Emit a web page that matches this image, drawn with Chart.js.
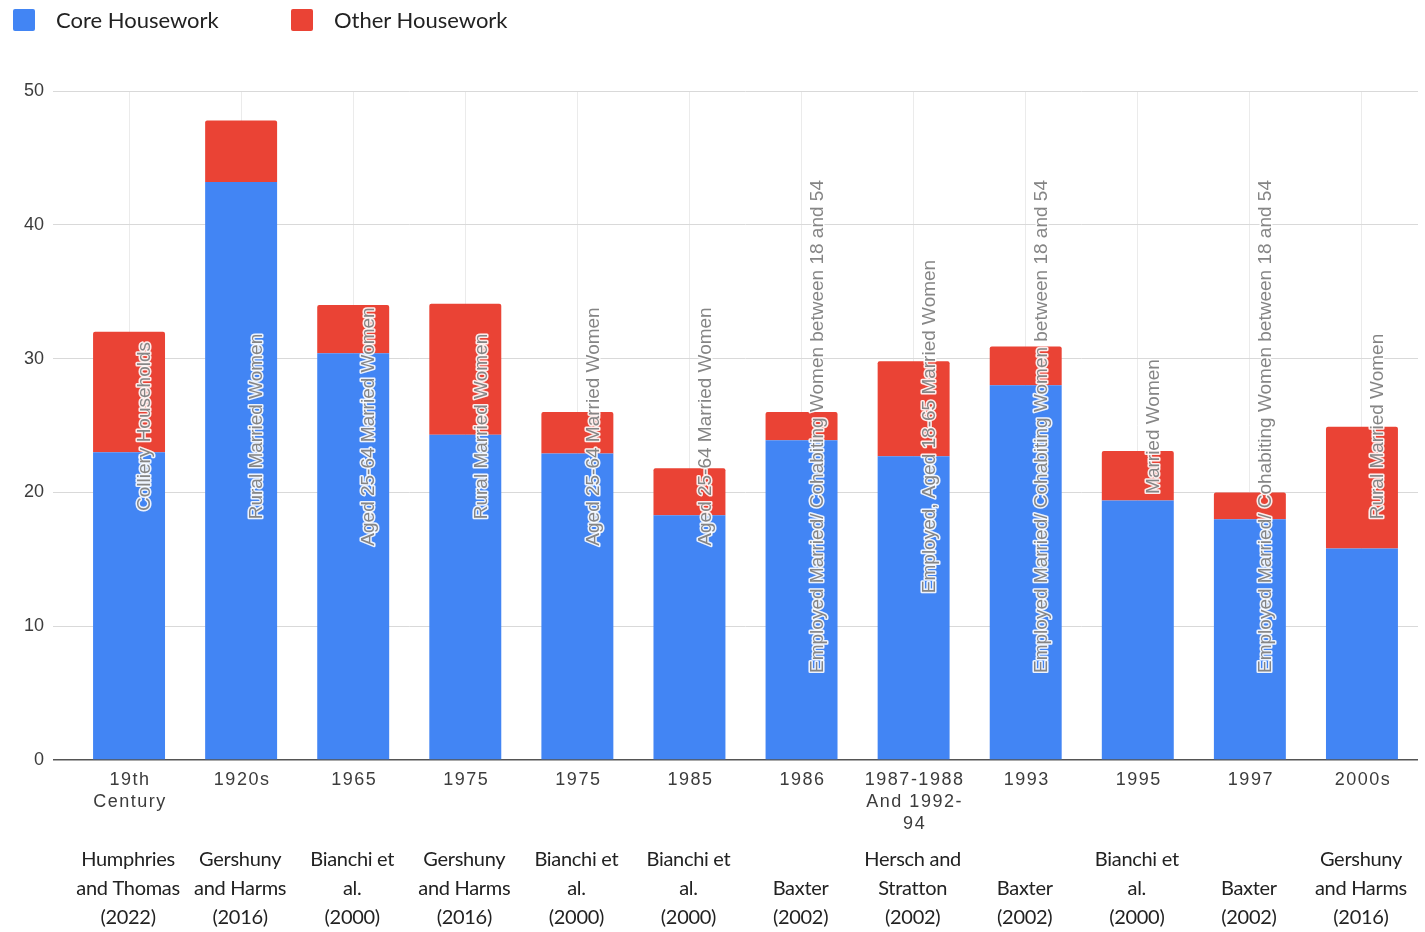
<!DOCTYPE html>
<html lang="en">
<head>
  <meta charset="UTF-8" />
  <title>Core and Other Housework</title>
  <script src="https://cdn.jsdelivr.net/npm/chart.js"></script>
  <style>
    body {
      margin: 0;
      background: #fff;
    }
    .wrap {
      position: relative;
      width: 1425px;
      height: 932px;
    }
    .legend-item {
      position: absolute;
      top: 6px;
      display: flex;
      align-items: center;
      font-family: Lato, "Open Sans", sans-serif;
      font-size: 22px;
      color: #222;
    }
    .swatch {
      width: 22px;
      height: 22px;
      border-radius: 2px;
      margin-right: 21px;
    }
  </style>
</head>
<body>
  <div class="wrap">
    <canvas id="houseworkChart" width="1425" height="932"></canvas>
    <div class="legend-item" style="left:13px"><span class="swatch" style="background:#4285f4"></span>Core Housework</div>
    <div class="legend-item" style="left:291px"><span class="swatch" style="background:#ea4335"></span>Other Housework</div>
  </div>

  <script>
  // period labels (x axis), sources and sample groups for each bar
  const periods = [
    ['19th', 'Century'], ['1920s'], ['1965'], ['1975'], ['1975'], ['1985'],
    ['1986'], ['1987-1988', 'And 1992-', '94'], ['1993'], ['1995'], ['1997'], ['2000s']
  ];
  const sources = [
    ['Humphries', 'and Thomas', '(2022)'], ['Gershuny', 'and Harms', '(2016)'],
    ['Bianchi et', 'al.', '(2000)'], ['Gershuny', 'and Harms', '(2016)'],
    ['Bianchi et', 'al.', '(2000)'], ['Bianchi et', 'al.', '(2000)'],
    ['Baxter', '(2002)'], ['Hersch and', 'Stratton', '(2002)'],
    ['Baxter', '(2002)'], ['Bianchi et', 'al.', '(2000)'],
    ['Baxter', '(2002)'], ['Gershuny', 'and Harms', '(2016)']
  ];
  const groups = [
    'Colliery Households',
    'Rural Married Women',
    'Aged 25-64 Married Women',
    'Rural Married Women',
    'Aged 25-64 Married Women',
    'Aged 25-64 Married Women',
    'Employed Married/ Cohabiting Women between 18 and 54',
    'Employed, Aged 18-65 Married Women',
    'Employed Married/ Cohabiting Women between 18 and 54',
    'Married Women',
    'Employed Married/ Cohabiting Women between 18 and 54',
    'Rural Married Women'
  ];

  const coreHours = [23, 43.2, 30.4, 24.3, 22.9, 18.3, 23.9, 22.7, 28, 19.4, 18, 15.8];
  const otherHours = [9, 4.6, 3.6, 9.8, 3.1, 3.5, 2.1, 7.1, 2.9, 3.7, 2, 9.1];
  const yTicks = [0, 10, 20, 30, 40, 50];

  const tickFont = '"Liberation Sans", Arial, sans-serif';

  // period + source labels under the axis
  const bottomLabels = {
    id: 'bottomLabels',
    afterDraw(chart) {
      const ctx = chart.ctx;
      const x = chart.scales.x;
      ctx.save();
      ctx.textAlign = 'center';
      ctx.textBaseline = 'middle';
      periods.forEach((lines, i) => {
        const px = x.getPixelForValue(i);
        ctx.font = '18px ' + tickFont;
        ctx.fillStyle = '#3c3c3c';
        ctx.letterSpacing = '1.5px';
        lines.forEach((t, j) => ctx.fillText(t, px + 1, 780 + j * 22));
        ctx.font = '20px Lato, "Open Sans", sans-serif';
        ctx.fillStyle = '#222';
        ctx.letterSpacing = '-0.3px';
        const src = sources[i];
        src.forEach((t, j) => {
          const row = 3 - src.length + j;
          ctx.fillText(t, px - 1, 860 + row * 29);
        });
      });
      ctx.restore();
    }
  };

  // vertical group names, centred in the plot area
  const groupLabels = {
    id: 'groupLabels',
    afterDatasetsDraw(chart) {
      const ctx = chart.ctx;
      const x = chart.scales.x;
      const area = chart.chartArea;
      const cy = (area.top + area.bottom) / 2 + 1;
      ctx.save();
      ctx.font = '19px ' + tickFont;
      ctx.textAlign = 'center';
      ctx.textBaseline = 'middle';
      ctx.lineJoin = 'round';
      groups.forEach((g, i) => {
        ctx.save();
        ctx.translate(x.getPixelForValue(i) + 16, cy);
        ctx.rotate(-Math.PI / 2);
        ctx.strokeStyle = 'rgba(255,255,255,0.9)';
        ctx.lineWidth = 3;
        ctx.strokeText(g, 0, 0);
        ctx.fillStyle = '#858585';
        ctx.fillText(g, 0, 0);
        ctx.restore();
      });
      ctx.restore();
    }
  };

  new Chart(document.getElementById('houseworkChart'), {
    type: 'bar',
    data: {
      labels: periods.map(p => p.join(' ')),
      datasets: [
        {
          label: 'Core Housework',
          data: coreHours,
          backgroundColor: '#4285f4',
          barPercentage: 0.642,
          categoryPercentage: 1
        },
        {
          label: 'Other Housework',
          data: otherHours,
          backgroundColor: '#ea4335',
          borderRadius: { topLeft: 2, topRight: 2, bottomLeft: 0, bottomRight: 0 },
          borderSkipped: false,
          barPercentage: 0.642,
          categoryPercentage: 1
        }
      ]
    },
    options: {
      responsive: false,
      animation: false,
      layout: { padding: { top: 91, right: 7, bottom: 172, left: 0 } },
      plugins: {
        legend: { display: false },
        tooltip: { enabled: false }
      },
      scales: {
        x: {
          stacked: true,
          ticks: { display: false },
          grid: { offset: false, color: '#ebebeb', drawTicks: false },
          border: { display: false },
          afterFit: s => { s.height = 0; }
        },
        y: {
          stacked: true,
          min: 0,
          max: 50,
          afterBuildTicks: s => { s.ticks = yTicks.map(v => ({ value: v })); },
          afterFit: s => { s.width = 73; },
          ticks: {
            padding: 9,
            color: '#3c3c3c',
            font: { family: tickFont, size: 18 }
          },
          grid: {
            color: c => c.tick && c.tick.value === 0 ? '#555' : '#d9d9d9',
            lineWidth: c => c.tick && c.tick.value === 0 ? 1.5 : 1,
            tickLength: 20
          },
          border: { display: false }
        }
      }
    },
    plugins: [groupLabels, bottomLabels]
  });
  </script>
</body>
</html>
